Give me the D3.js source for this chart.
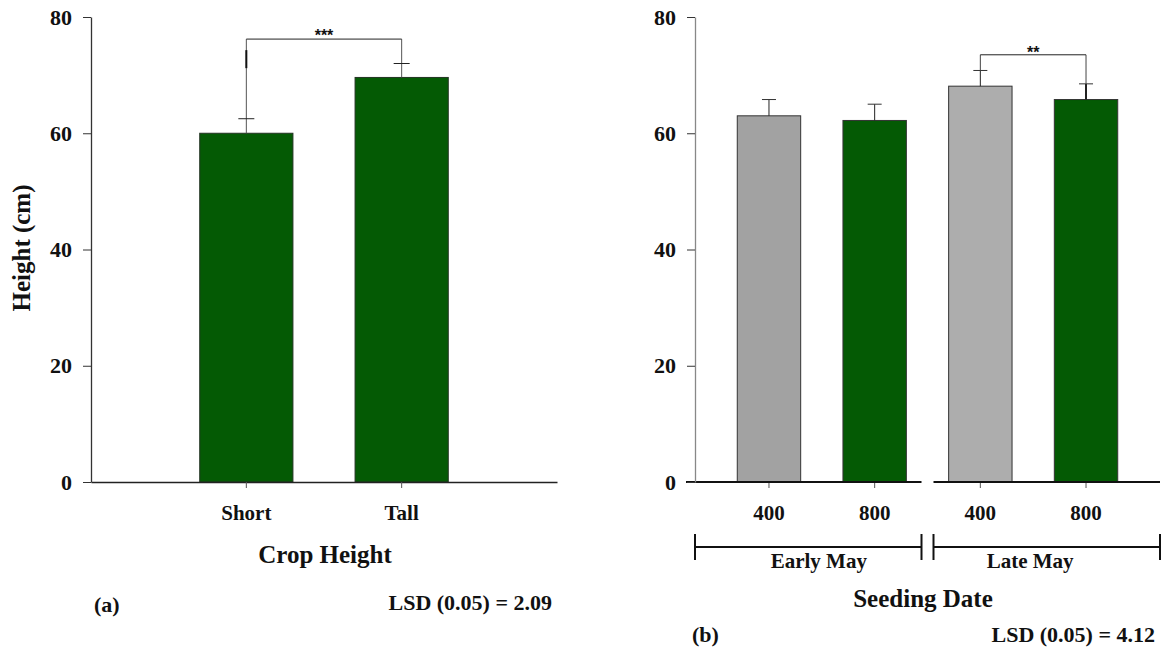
<!DOCTYPE html>
<html>
<head>
<meta charset="utf-8">
<script src="https://cdn.jsdelivr.net/npm/d3@7"></script>
<style>
  html, body { margin: 0; padding: 0; background: #fff; }
  svg text { font-family: "Liberation Serif", "Times New Roman", serif; font-weight: bold; fill: #111; }
</style>
</head>
<body>
<svg id="chart" width="1162" height="649"></svg>
<script>
// ---------- data ----------
const yTicks = [0, 20, 40, 60, 80];

// panel (a): crop height
const aCategories = ["Short", "Tall"];
const aValues = [60.0, 69.6];
const aErrors = [2.5, 2.4];
const aSignif = "***";
const aBracketValue = 76.2;
const aLSD = "LSD (0.05) = 2.09";

// panel (b): seeding date x seeding rate
const bRates = ["400", "800", "400", "800"];
const bDates = ["Early May", "Early May", "Late May", "Late May"];
const bValues = [63.0, 62.2, 68.1, 65.8];
const bErrors = [2.8, 2.8, 2.7, 2.7];
const bColors = ["#a2a2a2", "#045a04", "#adadad", "#045a04"];
const bSignif = "**";
const bBracketValue = 73.5;
const bLSD = "LSD (0.05) = 4.12";
const dateGroups = ["Early May", "Late May"];

const green = "#045a04";

// ---------- drawing ----------
const svg = d3.select("#chart");
const y = d3.scaleLinear().domain([0, 80]).range([482, 17]);

function yAxis(g, x0, domainColor) {
  const ax = g.append("g").attr("transform", `translate(${x0},0)`)
    .call(d3.axisLeft(y).tickValues(yTicks).tickSize(8).tickSizeOuter(0).tickPadding(11));
  ax.select(".domain").attr("stroke", domainColor).attr("stroke-width", 1.3);
  ax.selectAll(".tick line").attr("stroke", "#333");
  ax.selectAll(".tick text").style("font-size", "22px").attr("fill", "#111")
    .style("font-family", '"Liberation Serif", serif').style("font-weight", "bold");
  return ax;
}

// ===== Panel (a) =====
const ga = svg.append("g");
const xa = d3.scaleBand().domain(aCategories).range([91, 557]).paddingInner(0.4).paddingOuter(0.7);

// bars
ga.selectAll("rect.bar").data(aCategories).join("rect")
  .attr("x", d => xa(d)).attr("width", xa.bandwidth())
  .attr("y", (d, i) => y(aValues[i])).attr("height", (d, i) => y(0) - y(aValues[i]))
  .attr("fill", green).attr("stroke", "#233323").attr("stroke-width", 1);

// x axis
const axa = ga.append("g").attr("transform", `translate(0,${y(0)})`)
  .call(d3.axisBottom(xa).tickSize(6).tickSizeOuter(0).tickPadding(17));
axa.select(".domain").attr("stroke", "#222").attr("stroke-width", 1.5);
axa.selectAll(".tick line").attr("stroke", "#555");
axa.selectAll(".tick text").style("font-size", "21px").attr("fill", "#111")
  .style("font-family", '"Liberation Serif", serif').style("font-weight", "bold");

yAxis(ga, 91, "#333");

// error bars + bracket legs
const cxa = d => xa(d) + xa.bandwidth() / 2;
aCategories.forEach((c, i) => {
  const cx = cxa(c);
  ga.append("line").attr("x1", cx).attr("x2", cx)
    .attr("y1", y(aValues[i])).attr("y2", y(aBracketValue))
    .attr("stroke", "#555").attr("stroke-width", 1);
  ga.append("line").attr("x1", cx - 8).attr("x2", cx + 8)
    .attr("y1", y(aValues[i] + aErrors[i])).attr("y2", y(aValues[i] + aErrors[i]))
    .attr("stroke", "#222").attr("stroke-width", 1);
});
// small dark stroke on left leg (as in original)
ga.append("line").attr("x1", cxa("Short")).attr("x2", cxa("Short"))
  .attr("y1", y(74.3)).attr("y2", y(71.2)).attr("stroke", "#111").attr("stroke-width", 2);
ga.append("line").attr("x1", cxa("Short")).attr("x2", cxa("Tall"))
  .attr("y1", y(aBracketValue)).attr("y2", y(aBracketValue))
  .attr("stroke", "#222").attr("stroke-width", 1);
ga.append("text").attr("x", (cxa("Short") + cxa("Tall")) / 2).attr("y", y(aBracketValue) + 1.5)
  .attr("text-anchor", "middle").style("font-family", '"Liberation Sans", Arial, sans-serif')
  .style("font-size", "16px").text(aSignif);

// y label
svg.append("text").attr("transform", "translate(30,248) rotate(-90)")
  .attr("text-anchor", "middle").style("font-size", "25px").text("Height (cm)");
// x title
svg.append("text").attr("x", 325).attr("y", 563).attr("text-anchor", "middle")
  .style("font-size", "25px").text("Crop Height");
svg.append("text").attr("x", 94).attr("y", 611.5).style("font-size", "22px").text("(a)");
svg.append("text").attr("x", 552).attr("y", 609.5).attr("text-anchor", "end")
  .style("font-size", "22px").text(aLSD);

// ===== Panel (b) =====
const gb = svg.append("g");
const idx = bValues.map((d, i) => i);
const xb = d3.scaleBand().domain(idx).range([695, 1160]).paddingInner(0.4).paddingOuter(0.4);
const cxb = i => xb(i) + xb.bandwidth() / 2;

gb.selectAll("rect.bar").data(idx).join("rect")
  .attr("x", i => xb(i)).attr("width", xb.bandwidth())
  .attr("y", i => y(bValues[i])).attr("height", i => y(0) - y(bValues[i]))
  .attr("fill", i => bColors[i]).attr("stroke", "#333").attr("stroke-width", 1);

// x axis with break
const breakX = (xb(1) + xb.bandwidth() + xb(2)) / 2;
const axb = gb.append("g").attr("transform", `translate(0,${y(0)})`)
  .call(d3.axisBottom(xb).tickSize(6).tickSizeOuter(0).tickPadding(17).tickFormat(i => bRates[i]));
axb.select(".domain").remove();
axb.selectAll(".tick line").attr("stroke", "#555");
axb.selectAll(".tick text").style("font-size", "21px").attr("fill", "#111")
  .style("font-family", '"Liberation Serif", serif').style("font-weight", "bold");
gb.append("line").attr("x1", 686).attr("x2", breakX - 6).attr("y1", y(0)).attr("y2", y(0))
  .attr("stroke", "#111").attr("stroke-width", 2);
gb.append("line").attr("x1", breakX + 6).attr("x2", 1160).attr("y1", y(0)).attr("y2", y(0))
  .attr("stroke", "#111").attr("stroke-width", 2);

yAxis(gb, 695, "#888");

// error bars
idx.forEach(i => {
  const cx = cxb(i);
  const top = y(bValues[i] + bErrors[i]);
  gb.append("line").attr("x1", cx).attr("x2", cx).attr("y1", y(bValues[i])).attr("y2", top)
    .attr("stroke", "#222").attr("stroke-width", i === 3 ? 2 : 1);
  gb.append("line").attr("x1", cx - 7).attr("x2", cx + 7).attr("y1", top).attr("y2", top)
    .attr("stroke", "#333").attr("stroke-width", 1);
});
// bracket over Late May
[2, 3].forEach(i => {
  gb.append("line").attr("x1", cxb(i)).attr("x2", cxb(i))
    .attr("y1", y(bValues[i] + bErrors[i])).attr("y2", y(bBracketValue))
    .attr("stroke", "#444").attr("stroke-width", 1);
});
gb.append("line").attr("x1", cxb(2)).attr("x2", cxb(3))
  .attr("y1", y(bBracketValue)).attr("y2", y(bBracketValue)).attr("stroke", "#222").attr("stroke-width", 1);
gb.append("text").attr("x", (cxb(2) + cxb(3)) / 2).attr("y", y(bBracketValue) + 3)
  .attr("text-anchor", "middle").style("font-family", '"Liberation Sans", Arial, sans-serif')
  .style("font-size", "16px").text(bSignif);

// date group brackets
const groupSpans = [[695, breakX - 6], [breakX + 6, 1160]];
dateGroups.forEach((g, k) => {
  const [x1, x2] = groupSpans[k];
  const gg = gb.append("g").attr("stroke", "#111").attr("stroke-width", 2);
  gg.append("line").attr("x1", x1).attr("x2", x2).attr("y1", 547).attr("y2", 547);
  gg.append("line").attr("x1", x1).attr("x2", x1).attr("y1", 534).attr("y2", 560);
  gg.append("line").attr("x1", x2).attr("x2", x2).attr("y1", 534).attr("y2", 560);
});
const groupCenters = dateGroups.map(g => {
  const ii = idx.filter(i => bDates[i] === g);
  return (cxb(ii[0]) + cxb(ii[ii.length - 1])) / 2;
});
gb.selectAll("text.grp").data(dateGroups).join("text")
  .attr("x", (d, k) => groupCenters[k] - 3).attr("y", 567.5).attr("text-anchor", "middle")
  .style("font-size", "21px").text(d => d);

svg.append("text").attr("x", 923).attr("y", 607).attr("text-anchor", "middle")
  .style("font-size", "25px").text("Seeding Date");
svg.append("text").attr("x", 692).attr("y", 641.5).style("font-size", "22px").text("(b)");
svg.append("text").attr("x", 1155).attr("y", 641.5).attr("text-anchor", "end")
  .style("font-size", "22px").text(bLSD);
</script>
</body>
</html>
